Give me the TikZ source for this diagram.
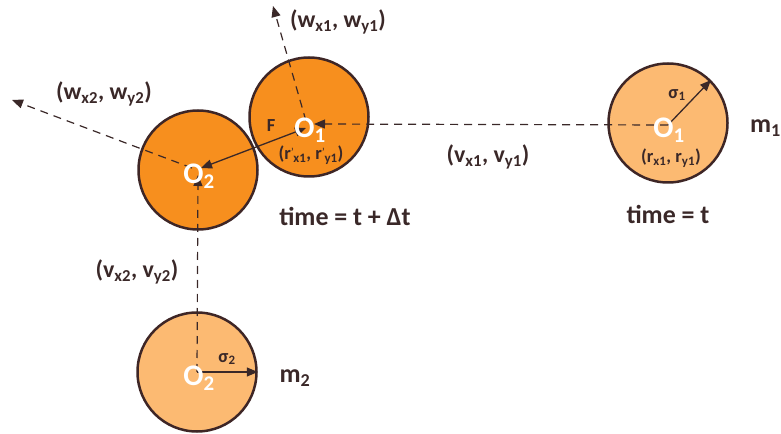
\documentclass[tikz,border=0pt]{standalone}
\usepackage{fontspec}
\setmainfont{Carlito}
\usetikzlibrary{arrows.meta}
\definecolor{ballhot}{RGB}{247,143,30}
\definecolor{ballpale}{RGB}{252,186,114}
\definecolor{rim}{RGB}{62,38,38}
\definecolor{ink}{RGB}{58,40,40}
\tikzset{ball/.style={circle,draw=rim,line width=2.5bp,minimum size=119bp,inner sep=0pt},
 hot/.style={ball,fill=ballhot},pale/.style={ball,fill=ballpale},
 lbl/.style={font=\fontsize{24}{28}\selectfont\bfseries,text=ink,inner sep=0pt},
 sml/.style={font=\fontsize{18.5}{22}\selectfont\bfseries,text=ink,inner sep=0pt},
 big/.style={font=\fontsize{26}{30}\selectfont\bfseries,text=ink,inner sep=0pt},
 ctr/.style={font=\fontsize{30}{34}\selectfont\bfseries,text=white,inner sep=0pt},
 vel/.style={draw=ink,line width=1.2bp,dash pattern=on 8bp off 6bp},
 tip/.style={-{Triangle[length=11bp,width=9bp]}}}
\newcommand\rpr{r\rlap{\raisebox{3bp}{\normalfont\fontsize{12}{12}\selectfont'}}\textsubscript{\,}}
\begin{document}
\begin{tikzpicture}[x=1bp,y=-1bp]
\useasboundingbox (0,0) rectangle (781,434);
% balls
\node[pale](c1) at (668,123){};\node[hot](c1b) at (309,117){};
\node[hot](c2) at (198,170){};\node[pale](c2b) at (197,372){};
% centres and tips
\coordinate(o1) at (668,125);\coordinate(o1v) at (314,124);\coordinate(o1f) at (306,128);\coordinate(o1w) at (306,121);
\coordinate(o2f) at (201,168);\coordinate(o2v) at (198,175);\coordinate(o2w) at (192,168);\coordinate(o2b) at (197,372);
\coordinate(w1) at (273,6);\coordinate(w2) at (12,100);
\draw[vel,tip](o1)--(o1v);\draw[vel,tip](o1w)--(w1);\draw[vel,tip](o2w)--(w2);\draw[vel,tip](o2b)--(o2v);
\draw[ink,line width=1.3bp,{Triangle[length=11bp,width=9bp]}-{Triangle[length=11bp,width=9bp]}](o1f)--(o2f);
\draw[ink,line width=1.3bp,tip](o1)--(c1.45);\draw[ink,line width=1.3bp,tip](o2b)--(c2b.east);
% labels
\node[ctr](t1) at (669,130){O\textsubscript{1}};\node[ctr](t1b) at (310,130){O\textsubscript{1}};
\node[ctr](t2) at (199,176){O\textsubscript{2}};\node[ctr](t2b) at (199,378){O\textsubscript{2}};
\node[lbl](lw1) at (338,22){(w\textsubscript{x1}, w\textsubscript{y1})};
\node[lbl](lw2) at (104,94){(w\textsubscript{x2}, w\textsubscript{y2})};
\node[lbl](lv1) at (488,157){(v\textsubscript{x1}, v\textsubscript{y1})};
\node[lbl](lv2) at (137,272){(v\textsubscript{x2}, v\textsubscript{y2})};
\node[sml](lf) at (271,126){F};
\node[sml](lr1) at (671,158){(r\textsubscript{x1}, r\textsubscript{y1})};
\node[sml](lr1b) at (311,155){(\rpr\textsubscript{x1}, \rpr\textsubscript{y1})};
\node[sml](ls1) at (677,95){σ\textsubscript{1}};\node[sml](ls2) at (227,359){σ\textsubscript{2}};
\node[big](tm1) at (668,214){time = t};
\node[big](tm2) at (345,216){time = t + Δt};
\node[big,anchor=east](m1) at (781,128){m\textsubscript{1}};
\node[big](m2) at (295,378){m\textsubscript{2}};
\end{tikzpicture}
\end{document}
